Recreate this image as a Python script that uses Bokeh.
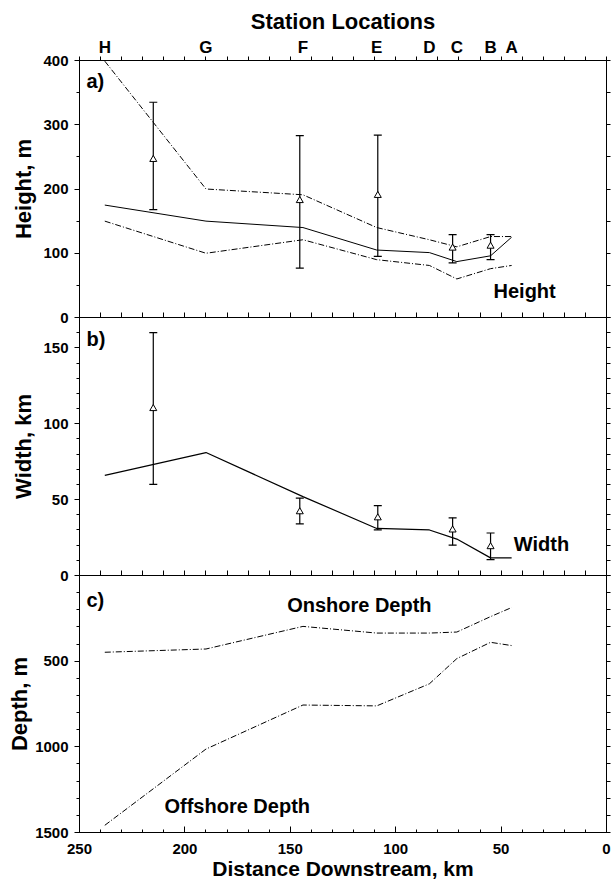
from bokeh.plotting import figure
from bokeh.layouts import column
from bokeh.models import (Range1d, LinearAxis, FixedTicker, SingleIntervalTicker, Label)
from bokeh.embed import file_html
from bokeh.resources import INLINE

# ---------------- data ----------------
station_names = ["H", "G", "F", "E", "D", "C", "B", "A"]
station_km = [238, 190, 144, 109, 84, 71, 55, 45]

# panel a: height, m
height_mid = [175, 150, 140, 105, 101, 87, 96, 125]
height_upper = [399, 200, 191, 140, 121, 110, 126, 126]
height_lower = [150, 100, 121, 90, 81, 60, 76, 81]

obs_km = [215, 145.5, 108.5, 73, 55]
height_obs = [246, 182, 190, 108, 111]
height_obs_hi = [335, 283, 284, 129, 129]
height_obs_lo = [168, 77, 95, 85, 90]

# panel b: width, km
width_line = [66, 81, 52, 31, 30, 24, 11.6, 11.6]
width_obs = [110, 42, 38, 30, 19]
width_obs_hi = [160, 51, 46, 38, 28]
width_obs_lo = [60, 34, 30, 20, 10.5]

# panel c: depth, m
onshore_depth = [448, 429, 297, 336, 336, 330, 240, 187]
offshore_depth = [1458, 1013, 756, 761, 632, 485, 390, 409]

FONT = "Liberation Sans"
DASHDOT = "6 2 1 2"
OVERLAP = 12


def style_axis(ax, size="15px"):
    ax.axis_line_color = "black"
    ax.major_tick_line_color = "black"
    ax.minor_tick_line_color = "black"
    ax.major_label_text_font = FONT
    ax.major_label_text_font_style = "bold"
    ax.major_label_text_font_size = size
    ax.major_label_text_color = "black"
    ax.axis_label_text_font = FONT
    ax.axis_label_text_font_style = "bold"
    ax.axis_label_text_font_size = "22px"
    ax.axis_label_text_color = "black"


def make_fig(y_range, frame_h, top, bottom, overlap_top):
    kw = {}
    if overlap_top:
        kw["margin"] = (-2 * OVERLAP, 0, 0, 0)
    p = figure(frame_width=527, frame_height=frame_h,
               x_range=Range1d(250, 0), y_range=y_range,
               output_backend="svg", toolbar_location=None,
               min_border_left=79, min_border_right=5,
               min_border_top=top, min_border_bottom=bottom, **kw)
    p.xgrid.visible = False
    p.ygrid.visible = False
    p.outline_line_color = "black"
    p.outline_line_width = 1
    p.background_fill_color = "white"
    p.border_fill_color = "white"
    p.border_fill_alpha = 0.0
    return p


def setup_axes(p, yticker, right_minor, ylabel, show_x_labels, title_standoff=4):
    yax = p.yaxis[0]
    yax.ticker = yticker
    yax.axis_label = ylabel
    style_axis(yax)
    yax.major_tick_out = 5
    yax.major_tick_in = 0
    yax.minor_tick_out = 3
    yax.minor_tick_in = 0
    yax.major_label_standoff = 6
    yax.axis_label_standoff = title_standoff

    xax = p.xaxis[0]
    style_axis(xax)
    if show_x_labels:
        xax.ticker = SingleIntervalTicker(interval=50, num_minor_ticks=5)
        xax.major_tick_in = 6
        xax.major_tick_out = 0
        xax.minor_tick_in = 3
        xax.minor_tick_out = 0
        xax.major_label_standoff = 11
        xax.axis_label = "Distance Downstream, km"
        xax.axis_label_standoff = 0
        xax.axis_label_text_font_size = "21px"
    else:
        xax.ticker = FixedTicker(ticks=[], minor_ticks=list(range(0, 251, 10)))
        xax.major_tick_in = 0
        xax.major_tick_out = 0
        xax.minor_tick_in = 5
        xax.minor_tick_out = 0
        xax.major_label_standoff = 0

    rax = LinearAxis(ticker=FixedTicker(ticks=[], minor_ticks=right_minor))
    style_axis(rax)
    rax.major_label_standoff = 0
    rax.major_tick_out = 0
    rax.major_tick_in = 0
    rax.minor_tick_out = 4
    rax.minor_tick_in = 0
    p.add_layout(rax, "right")


def add_text(p, text, x, y, size="20px"):
    p.add_layout(Label(x=x, y=y, text=text, text_font=FONT, text_font_style="bold",
                       text_font_size=size, text_baseline="middle", text_align="left",
                       text_color="black"))


# ---------------- panel a ----------------
pa = make_fig(Range1d(0, 400), 257, 60, OVERLAP, False)
setup_axes(pa, SingleIntervalTicker(interval=100, num_minor_ticks=2),
           list(range(0, 401, 50)), "Height, m", False)
top = LinearAxis(ticker=FixedTicker(ticks=station_km, minor_ticks=list(range(0, 251, 10))),
                 major_label_overrides={k: n for k, n in zip(station_km, station_names)},
                 axis_label="Station Locations")
style_axis(top, "17px")
top.major_tick_in = 0
top.major_tick_out = 0
top.minor_tick_out = 4
top.minor_tick_in = 0
top.major_label_standoff = 0
top.axis_label_standoff = 1
pa.add_layout(top, "above")

pa.line(station_km, height_upper, line_color="black", line_width=1, line_dash=DASHDOT)
pa.line(station_km, height_mid, line_color="black", line_width=1)
pa.line(station_km, height_lower, line_color="black", line_width=1, line_dash=DASHDOT)
pa.segment(obs_km, height_obs_lo, obs_km, height_obs_hi, line_color="black", line_width=1.2)
pa.scatter(obs_km, height_obs_hi, marker="dash", size=8, line_color="black", line_width=1.2)
pa.scatter(obs_km, height_obs_lo, marker="dash", size=8, line_color="black", line_width=1.2)
pa.scatter(obs_km, height_obs, marker="triangle", size=7, fill_color="white",
           line_color="black", line_width=1)
add_text(pa, "a)", 246.7, 368)
add_text(pa, "Height", 53.6, 42)

# ---------------- panel b ----------------
pb = make_fig(Range1d(0, 170), 258, OVERLAP, OVERLAP, True)
setup_axes(pb, SingleIntervalTicker(interval=50, num_minor_ticks=5),
           list(range(0, 171, 10)), "Width, km", False)
pb.line(station_km, width_line, line_color="black", line_width=1.2)
pb.segment(obs_km, width_obs_lo, obs_km, width_obs_hi, line_color="black", line_width=1.2)
pb.scatter(obs_km, width_obs_hi, marker="dash", size=8, line_color="black", line_width=1.2)
pb.scatter(obs_km, width_obs_lo, marker="dash", size=8, line_color="black", line_width=1.2)
pb.scatter(obs_km, width_obs, marker="triangle", size=7, fill_color="white",
           line_color="black", line_width=1)
add_text(pb, "b)", 246.7, 156)
add_text(pb, "Width", 44, 21)

# ---------------- panel c ----------------
pc = make_fig(Range1d(1500, 0), 257, OVERLAP, 52, True)
setup_axes(pc, FixedTicker(ticks=[500, 1000, 1500], minor_ticks=list(range(0, 1501, 100))),
           list(range(0, 1501, 100)), "Depth, m", True, title_standoff=0)
pc.line(station_km, onshore_depth, line_color="black", line_width=1, line_dash=DASHDOT)
pc.line(station_km, offshore_depth, line_color="black", line_width=1, line_dash=DASHDOT)
add_text(pc, "c)", 246.7, 145)
add_text(pc, "Onshore Depth", 151.5, 174)
add_text(pc, "Offshore Depth", 209.7, 1345)

layout = column(pa, pb, pc, spacing=0)
open("out.html", "w").write(file_html(layout, INLINE))
